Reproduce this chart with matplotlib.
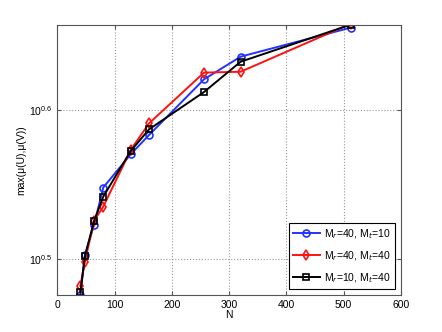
# max coherence vs N, log y axis
import numpy as np
import matplotlib
matplotlib.use('Agg')
from matplotlib import pyplot as plt
from matplotlib.ticker import FixedLocator, FixedFormatter, NullLocator

N = [40, 48, 64, 80, 128, 160, 256, 320, 512]
# log10 of max(mu(U),mu(V))
log_r40_t10 = [0.4759, 0.5027, 0.5228, 0.5478, 0.5701, 0.5830, 0.6203, 0.6355, 0.6549]
log_r40_t40 = [0.4819, 0.4982, 0.5257, 0.5350, 0.5730, 0.5908, 0.6248, 0.6254, 0.6575]
log_r10_t40 = [0.4775, 0.5018, 0.5254, 0.5417, 0.5723, 0.5868, 0.6118, 0.6321, 0.6569]
labels = ['M$_r$=40, M$_t$=10', 'M$_r$=40, M$_t$=40', 'M$_r$=10, M$_t$=40']

plt.rcParams['font.family'] = ['Liberation Sans', 'DejaVu Sans']
plt.rcParams['mathtext.fontset'] = 'custom'
plt.rcParams['mathtext.rm'] = 'Liberation Sans'

fig = plt.figure(figsize=(4.42, 3.32), dpi=100)
ax = fig.add_axes([0.13, 0.111, 0.777, 0.815])

series = [(log_r40_t10, '#2233ff', 'o'), (log_r40_t40, '#ff1111', 'd'), (log_r10_t40, 'black', 's')]
for (vals, col, mk), lab in zip(series, labels):
    ax.plot(N, 10 ** np.array(vals), '-', marker=mk, color=col, lw=1.4,
            markersize=5, markerfacecolor='none', markeredgewidth=1.2, label=lab)

ax.set_yscale('log')
ax.set_xlim(0, 600)
ax.set_ylim(10 ** 0.4757, 10 ** 0.657)
ax.set_xticks([0, 100, 200, 300, 400, 500, 600])
ax.yaxis.set_major_locator(FixedLocator([10 ** 0.5, 10 ** 0.6]))
ax.yaxis.set_major_formatter(FixedFormatter(['$10^{0.5}$', '$10^{0.6}$']))
ax.yaxis.set_minor_locator(NullLocator())
ax.tick_params(labelsize=7.5, direction='in', length=3, color='#555555')
ax.tick_params(which='both', top=True, right=True)
ax.grid(True, linestyle=':', color='#999999', lw=0.8)
for s in ax.spines.values():
    s.set_color('#555555')
ax.set_xlabel('N', fontsize=7.5, labelpad=0)
ax.set_ylabel('max(\u03bc(U),\u03bc(V))', fontsize=7.5, labelpad=2)

leg = ax.legend(loc='lower right', fontsize=7.5, fancybox=False, framealpha=1,
                edgecolor='black', borderaxespad=0.6, handlelength=2.6,
                handletextpad=0.4, labelspacing=0.8)
leg.get_frame().set_linewidth(0.8)

fig.savefig('out.png', dpi=100)
